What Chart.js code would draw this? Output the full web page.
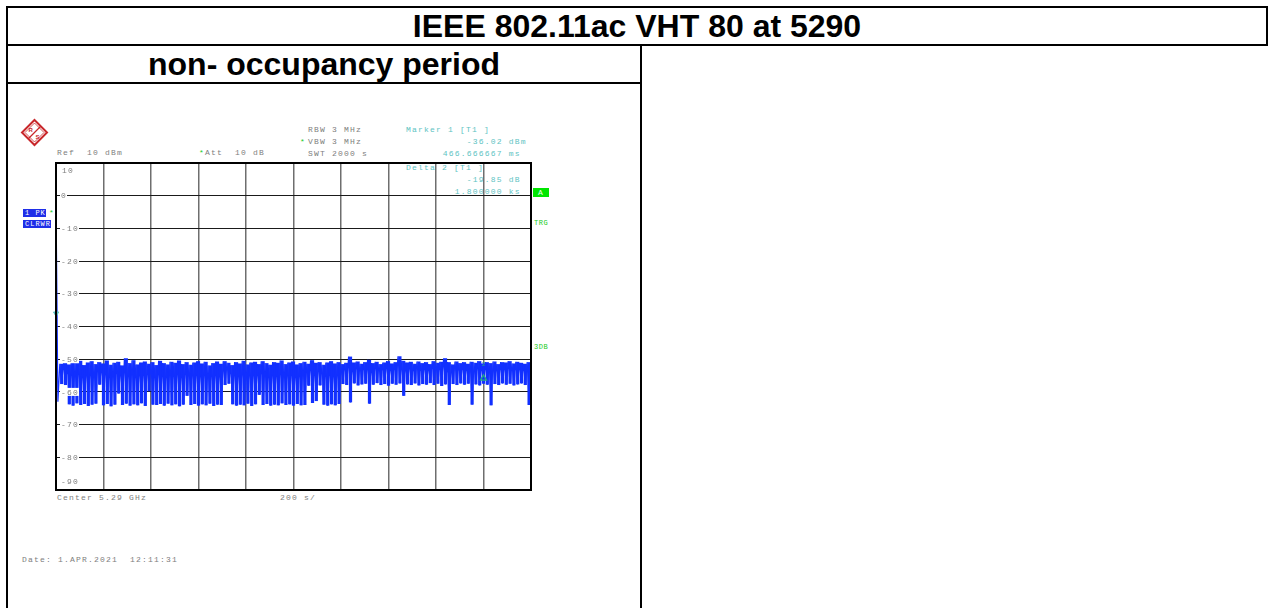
<!DOCTYPE html>
<html>
<head>
<meta charset="utf-8">
<title>IEEE 802.11ac VHT 80 at 5290</title>
<script src="https://cdn.jsdelivr.net/npm/chart.js@4.4.0/dist/chart.umd.min.js"></script>
<style>
  html, body { margin: 0; padding: 0; background: #fff; }
  body { width: 1269px; height: 608px; position: relative; overflow: hidden; font-family: "Liberation Sans", Arial, sans-serif; }
  .ln { position: absolute; background: #000; }
  .head { position: absolute; font-weight: bold; font-size: 32px; line-height: 36px; white-space: nowrap; color: #000; text-align: center; }
  .mono { position: absolute; font-family: "Liberation Mono", "DejaVu Sans Mono", monospace; font-size: 8px; line-height: 8px; letter-spacing: 1.2px; white-space: pre; color: #7e7e7e; }
  .teal { color: #5ec3c3; }
  .green { color: #22cc22; }
  .tag { position: absolute; background: #1f2fe8; color: #fff; font-family: "Liberation Mono", monospace; font-size: 7px; line-height: 8px; letter-spacing: 1px; white-space: pre; padding-left: 2px; box-sizing: border-box; }
  #spec { position: absolute; left: 0; top: 0; }
</style>
</head>
<body>

<!-- table borders -->
<div class="ln" style="left:6px;top:6px;width:1262px;height:2px"></div>
<div class="ln" style="left:6px;top:6px;width:2px;height:602px"></div>
<div class="ln" style="left:6px;top:44px;width:1262px;height:2px"></div>
<div class="ln" style="left:1266px;top:6px;width:2px;height:40px"></div>
<div class="ln" style="left:6px;top:82px;width:636px;height:2px"></div>
<div class="ln" style="left:640px;top:44px;width:2px;height:564px"></div>

<div class="head" style="left:8px;width:1258px;top:8px">IEEE 802.11ac VHT 80 at 5290</div>
<div class="head" style="left:148px;top:46px;text-align:left">non- occupancy period</div>

<!-- R&S logo -->
<svg style="position:absolute;left:0;top:0" width="60" height="160">
  <polygon points="34.5,120 47,132.5 34.5,145 22,132.5" fill="none" stroke="#c8262a" stroke-width="2"/>
  <polygon points="34.5,123 44,132.5 34.5,142 25,132.5" fill="none" stroke="#c8262a" stroke-width="0.8"/>
  <line x1="40.5" y1="126.5" x2="28.5" y2="138.5" stroke="#c8262a" stroke-width="1.2"/>
  <text x="28.5" y="131.5" font-family="Liberation Sans" font-weight="bold" font-size="6" fill="#c8262a">R</text>
  <text x="35.5" y="139" font-family="Liberation Sans" font-weight="bold" font-size="6" fill="#c8262a">S</text>
</svg>

<!-- instrument settings -->
<div class="mono" style="left:308px;top:126px">RBW 3 MHz</div>
<div class="mono green" style="left:300px;top:138px">*</div>
<div class="mono" style="left:308px;top:138px">VBW 3 MHz</div>
<div class="mono" style="left:308px;top:150px">SWT 2000 s</div>
<div class="mono" style="left:57px;top:149px">Ref  10 dBm</div>
<div class="mono green" style="left:199px;top:149px">*</div>
<div class="mono" style="left:205px;top:149px">Att  10 dB</div>

<div class="mono teal" style="left:406px;top:126px">Marker 1 [T1 ]</div>
<div class="mono teal" style="left:466.7px;top:138px">-36.02 dBm</div>
<div class="mono teal" style="left:442.7px;top:150px">466.666667 ms</div>
<div class="mono teal" style="left:406px;top:164px">Delta 2 [T1 ]</div>
<div class="mono teal" style="left:466.7px;top:176px">-19.85 dB</div>
<div class="mono teal" style="left:454.7px;top:188px">1.800000 ks</div>

<div style="position:absolute;left:533px;top:188px;width:16px;height:9px;background:#00e600"></div>
<div class="mono" style="left:538px;top:189px;color:#e8ffe8">A</div>
<div class="mono green" style="left:534px;top:219px;font-size:7px;letter-spacing:0.5px">TRG</div>
<div class="mono green" style="left:534px;top:343px;font-size:7px;letter-spacing:0.5px">3DB</div>

<div class="tag" style="left:23px;top:209px;width:23px;height:8px">1 PK</div>
<div class="mono green" style="left:49px;top:209px">*</div>
<div class="tag" style="left:23px;top:220px;width:28px;height:8px">CLRWR</div>

<div class="mono" style="left:57px;top:494px">Center 5.29 GHz</div>
<div class="mono" style="left:280px;top:494px">200 s/</div>
<div class="mono" style="left:22px;top:556px">Date: 1.APR.2021  12:11:31</div>

<canvas id="spec" width="1269" height="608"></canvas>

<script>
const sweepStep = 16;
const sweepSpan = 2000;

// top of the peak trace in each column
const traceHigh = [
  -1.5, -51.4, -50.9, -51.6, -50.7, -51.2, -50.5, -51.8, -51.0, -50.6,
  -51.5, -50.9, -51.3, -50.4, -51.7, -51.1, -50.8, -51.9, -49.7, -51.2,
  -50.3, -51.6, -51.0, -50.7, -51.4, -50.9, -51.8, -50.5, -51.2, -51.6,
  -50.8, -51.1, -50.4, -51.5, -50.9, -51.7, -51.0, -50.6, -51.3, -50.8,
  -51.9, -51.2, -50.7, -51.4, -50.6, -51.1, -51.8, -50.9, -51.3, -50.5,
  -51.6, -51.0, -50.8, -51.5, -50.6, -51.2, -51.7, -50.9, -51.1, -50.4,
  -51.5, -51.0, -50.7, -51.6, -51.2, -50.8, -51.4, -50.3, -51.1, -50.9,
  -51.7, -51.0, -50.6, -51.3, -50.9, -51.5, -51.1, -49.2, -51.0, -50.7,
  -51.4, -50.9, -50.2, -51.2, -50.8, -51.5, -51.0, -50.6, -51.3, -50.9,
  -49.1, -50.5, -51.0, -50.8, -51.4, -50.7, -51.2, -50.9, -51.5, -50.6,
  -51.1, -50.8, -49.7, -50.9, -51.6, -50.7, -51.2, -50.9, -51.4, -50.8,
  -51.1, -50.6, -51.3, -50.9, -51.2, -50.7, -51.5, -50.9, -51.0, -50.6,
  -51.3, -50.8, -51.1, -51.4, -50.9
];

// bottom of the peak trace in each column
const traceLow = [
  -63.0, -57.6, -57.9,
  -63.8, -64.2, -63.5, -64.0, -63.7, -64.3, -63.9, -63.6,
  -57.8,
  -64.1, -63.7, -64.4, -63.9, -60.5, -64.0, -63.6, -64.2, -63.8, -64.1,
  -63.5, -64.3, -59.8, -63.9, -64.0, -63.7, -64.2, -63.6, -64.1, -63.8,
  -64.4, -63.9, -61.2, -64.0, -63.7, -64.2, -63.8, -64.1, -63.6, -64.3,
  -63.9, -64.0,
  -57.9, -57.5,
  -63.8, -64.2, -63.9, -64.1, -63.6, -64.3, -63.8, -60.9, -64.0, -63.7,
  -64.2, -63.9, -64.1, -63.5, -64.0, -63.8, -64.2, -63.7, -64.1,
  -64.0, -58.1, -63.4, -62.8, -58.0,
  -63.9, -64.2, -63.8, -64.1, -63.7,
  -57.6, -57.9,
  -63.2,
  -57.4, -58.0, -57.7, -57.5,
  -63.6,
  -57.8, -57.3, -57.9, -57.6, -58.1, -57.5, -57.8, -57.4,
  -61.2,
  -57.7, -57.9, -57.4, -58.0, -57.6, -57.8, -57.3, -57.9, -57.5, -58.2, -57.7,
  -64.0,
  -57.6, -57.9, -57.4, -57.8, -57.5,
  -63.9,
  -57.7, -58.0, -57.5, -57.8,
  -64.1,
  -57.6, -57.9, -57.4, -57.8, -57.5, -58.0, -57.7, -57.4, -57.9,
  -64.0
];

// markers: [time s, level dBm]
const marker1 = [0.466667, -36.02];
const delta2 = [1800, -36.02 - 19.85];

// level axis
const yMin = -90;
const yMax = 10;
const yGridLabels = ["0", "-10", "-20", "-30", "-40", "-50", "-60", "-70", "-80"];
const yGridValues = [0, -10, -20, -30, -40, -50, -60, -70, -80];

const TEAL = "#5ec3c3";
const GRAY = "#7e7e7e";
const TRACE = "#1230ff";

// peak detector columns -> zig-zag line (top, bottom, top, ...)
function buildTrace() {
  const pts = [];
  traceHigh.forEach((hi, i) => {
    pts.push({ x: i * sweepStep, y: hi });
    pts.push({ x: i * sweepStep + sweepStep / 2, y: traceLow[i] });
  });
  return pts;
}

// solid body of every column (first column is the sweep start, line only)
function buildColumns() {
  const cols = [];
  traceHigh.forEach((hi, i) => {
    if (i === 0) return;
    cols.push({ x: i * sweepStep + sweepStep / 2, y: [traceLow[i], hi] });
  });
  return cols;
}

// draws text with the analyzer's fixed 6 px pitch
function monoText(ctx, txt, x, y) {
  for (let i = 0; i < txt.length; i++) {
    ctx.fillText(txt[i], x + i * 6, y);
  }
}

/**
 * Frame + level labels sitting on the grid lines
 */
const screenPlugin = {
  id: "screen",
  afterDraw(chart) {
    const { ctx, chartArea: a, scales } = chart;
    const ys = scales.y;
    ctx.save();
    ctx.font = '8px "Liberation Mono", monospace';
    ctx.textBaseline = "middle";
    ctx.textAlign = "left";

    yGridValues.forEach((v, i) => {
      const py = ys.getPixelForValue(v);
      const txt = yGridLabels[i];
      const x0 = a.left + 5;
      ctx.fillStyle = "#fff";
      ctx.fillRect(x0 - 1, py - 4, txt.length * 6 + 1, 8);
      ctx.fillStyle = GRAY;
      monoText(ctx, txt, x0, py + 0.5);
    });

    // end labels inside the frame
    ctx.fillStyle = GRAY;
    monoText(ctx, String(yMax), a.left + 6, ys.getPixelForValue(yMax) + 8);
    monoText(ctx, String(yMin), a.left + 5, ys.getPixelForValue(yMin) - 8);

    // outer frame
    ctx.strokeStyle = "#000";
    ctx.lineWidth = 2;
    ctx.strokeRect(a.left, a.top, a.right - a.left, a.bottom - a.top);

    // delta marker number
    ctx.fillStyle = "#1fa58c";
    ctx.font = '6px "Liberation Mono", monospace';
    ctx.textAlign = "center";
    ctx.fillText("2", scales.x.getPixelForValue(delta2[0]), ys.getPixelForValue(delta2[1]) - 14);
    ctx.restore();
  },
};

function renderSpectrum() {
  const canvas = document.getElementById("spec");
  const ctx = canvas.getContext("2d");

  new Chart(ctx, {
    type: "line",
    data: {
      datasets: [
        {
          label: "1 PK CLRWR",
          data: buildTrace(),
          borderColor: TRACE,
          borderWidth: 1.2,
          pointRadius: 0,
          tension: 0,
          order: 2,
        },
        {
          label: "columns",
          type: "bar",
          data: buildColumns(),
          backgroundColor: TRACE,
          borderWidth: 0,
          barPercentage: 0.85,
          categoryPercentage: 1,
          grouped: false,
          order: 3,
        },
        {
          label: "Marker 1",
          type: "scatter",
          data: [{ x: marker1[0], y: marker1[1] }],
          pointStyle: "triangle",
          rotation: 180,
          pointRadius: 3,
          backgroundColor: TEAL,
          borderColor: TEAL,
          borderWidth: 1,
          clip: false,
          order: 0,
        },
        {
          label: "Delta 2",
          type: "scatter",
          data: [{ x: delta2[0], y: delta2[1] }],
          pointStyle: "triangle",
          pointRadius: 3.5,
          backgroundColor: "rgba(0,0,0,0)",
          borderColor: "#1fa58c",
          borderWidth: 1.3,
          clip: false,
          order: 0,
        },
      ],
    },
    options: {
      responsive: false,
      animation: false,
      events: [],
      layout: { padding: { left: 56, top: 163, right: 738, bottom: 118 } },
      plugins: { legend: { display: false }, tooltip: { enabled: false }, title: { display: false } },
      scales: {
        x: {
          type: "linear",
          min: 0,
          max: sweepSpan,
          offset: false,
          ticks: { display: false, stepSize: 200 },
          grid: { color: "#6e6e6e", lineWidth: 1.5, drawTicks: false, offset: false },
          border: { display: false },
        },
        y: {
          min: yMin,
          max: yMax,
          ticks: { display: false, stepSize: 10 },
          grid: { color: "#1a1a1a", lineWidth: 1, drawTicks: false },
          border: { display: false },
        },
      },
    },
    plugins: [screenPlugin],
  });
}

document.addEventListener("DOMContentLoaded", renderSpectrum);
</script>
</body>
</html>
